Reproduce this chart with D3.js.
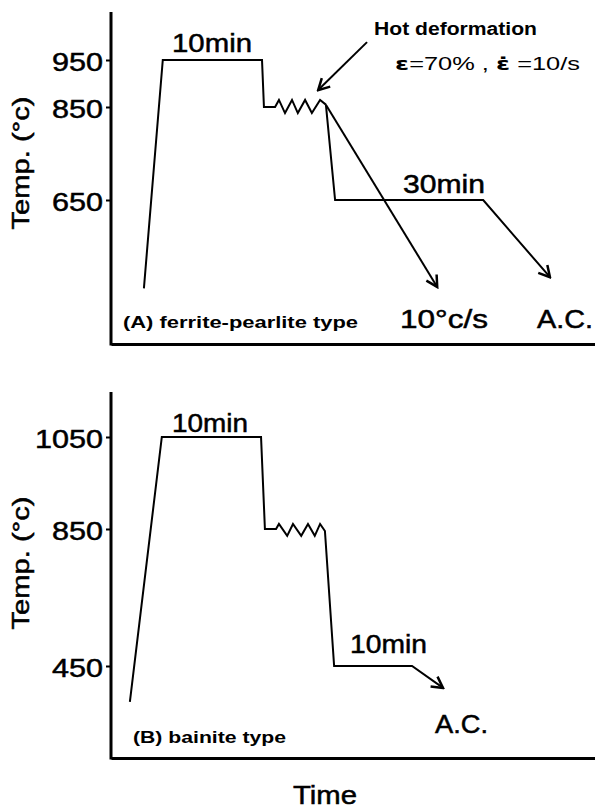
<!DOCTYPE html>
<html lang="en">
<head>
  <meta charset="UTF-8">
  <title>Heat treatment schedules</title>
  <style>
    body { margin: 0; background: #fff; }
    svg { display: block; font-family: "Liberation Sans", Arial, sans-serif; }
    .curve { fill: none; stroke: #000; stroke-width: 2; stroke-linejoin: miter; }
    .frame { stroke: #000; stroke-width: 3; }
    .big { font-size: 26px; stroke: #000; stroke-width: 0.5px; }
    .small { font-size: 15px; font-weight: bold; }
  </style>
</head>
<body>
  <script src="https://d3js.org/d3.v7.min.js"></script>
  <script>
    // time axis is schematic: arbitrary units 0..100
    const ticksA = [950, 850, 650];
    const ticksB = [1050, 850, 450];

    // panel A: heating, hold 10min at 950, drop to 850, hot deformation (zigzag)
    const timeA = [6.8, 10.7, 31.2, 31.6, 33.9, 34.7, 35.95, 37.4, 38.6, 40.1, 41.5, 43.2, 44.4];
    const tempA = [460, 950, 950, 850, 850, 865, 837, 865, 837, 865, 837, 865, 855];
    // after deformation: 10 C/s cooling branch
    const timeA_fast = [44.4, 67.4];
    const tempA_fast = [855, 463];
    // after deformation: hold 30min at 650 then air cooling
    const timeA_ac = [44.4, 46.3, 76.9, 90.7];
    const tempA_ac = [855, 650, 650, 484];
    // pointer for "Hot deformation"
    const timePtr = [52.9, 42.8];
    const tempPtr = [988, 886];

    // panel B: 1050 hold, 850 deformation, 450 hold 10min, air cooling
    const timeB = [3.9, 10.5, 31.0, 31.8, 34.1, 34.7, 36.4, 37.6, 39.3, 40.7, 42.1, 43.2, 44.2, 46.1, 62.2, 68.6];
    const tempB = [345, 1050, 1050, 850, 850, 861, 830, 861, 830, 861, 830, 861, 844, 450, 450, 386];

    const W = 595, H = 810;
    const LEFT = 111, RIGHT = 595;

    const svg = d3.select('body').append('svg')
      .attr('width', W).attr('height', H);

    svg.append('defs').append('marker')
      .attr('id', 'arrow')
      .attr('viewBox', '-13 -8 15 16')
      .attr('refX', 0).attr('refY', 0)
      .attr('markerWidth', 15).attr('markerHeight', 16)
      .attr('markerUnits', 'userSpaceOnUse')
      .attr('orient', 'auto')
      .append('path')
        .attr('d', 'M-11,-6 L0,0 L-11,6')
        .attr('fill', 'none')
        .attr('stroke', '#000')
        .attr('stroke-width', 2.5);

    const x = d3.scaleLinear().domain([0, 100]).range([LEFT, RIGHT]);

    // the temperature axes are schematic, so use piecewise scales
    const yA = d3.scaleLinear().domain([650, 850, 950]).range([200, 107, 60]);
    const yB = d3.scaleLinear().domain([450, 850, 1050]).range([666, 529, 437]);

    const line = (y) => d3.line().x(d => x(d[0])).y(d => y(d[1]));
    const zip = (a, b) => a.map((v, i) => [v, b[i]]);

    function addText(g, str, px, py, len, cls) {
      return g.append('text')
        .attr('x', px).attr('y', py)
        .attr('class', cls)
        .attr('textLength', len)
        .attr('lengthAdjust', 'spacingAndGlyphs')
        .text(str);
    }

    function drawFrame(y, ticks, top, bottom, labelY) {
      const g = svg.append('g');
      g.append('line').attr('class', 'frame')
        .attr('x1', LEFT).attr('x2', LEFT).attr('y1', top).attr('y2', bottom + 1.5);
      g.append('g')
        .attr('transform', `translate(0,${bottom})`)
        .call(d3.axisBottom(x).ticks(0).tickSizeOuter(0))
        .select('.domain').attr('stroke-width', 3);

      const ax = g.append('g')
        .attr('transform', `translate(${LEFT},0)`)
        .call(d3.axisLeft(y).tickValues(ticks).tickFormat(d3.format('d'))
          .tickSize(5).tickPadding(3));
      ax.select('.domain').remove();
      ax.selectAll('.tick line').attr('stroke-width', 2);
      ax.selectAll('.tick text')
        .attr('class', 'big')
        .attr('dy', '0.4em')
        .attr('fill', '#000')
        .attr('textLength', d => String(d).length * 17)
        .attr('lengthAdjust', 'spacingAndGlyphs');
      ax.attr('font-size', null).attr('font-family', null);

      g.append('text')
        .attr('class', 'big')
        .style('font-size', '24px')
        .attr('text-anchor', 'middle')
        .attr('transform', `translate(29,${labelY}) rotate(-90)`)
        .attr('textLength', 133)
        .attr('lengthAdjust', 'spacingAndGlyphs')
        .text('Temp. (°c)');
      return g;
    }

    // ---- panel A
    const gA = drawFrame(yA, ticksA, 12, 344, 163);
    gA.append('path').attr('class', 'curve').attr('d', line(yA)(zip(timeA, tempA)));
    gA.append('path').attr('class', 'curve').attr('marker-end', 'url(#arrow)')
      .attr('d', line(yA)(zip(timeA_fast, tempA_fast)));
    gA.append('path').attr('class', 'curve').attr('marker-end', 'url(#arrow)')
      .attr('d', line(yA)(zip(timeA_ac, tempA_ac)));
    gA.append('path').attr('class', 'curve').attr('marker-end', 'url(#arrow)')
      .attr('d', line(yA)(zip(timePtr, tempPtr)));

    addText(gA, '10min', 172, 52, 80, 'big');
    addText(gA, 'Hot deformation', 374, 35, 163, 'small').style('font-size', '18px');
    const eps = gA.append('text').attr('x', 395).attr('y', 70)
      .style('font-size', '18px')
      .attr('textLength', 185).attr('lengthAdjust', 'spacingAndGlyphs');
    eps.append('tspan').attr('font-weight', 'bold').attr('font-family', 'DejaVu Sans').text('ε');
    eps.append('tspan').text('=70% ,  ');
    eps.append('tspan').attr('font-weight', 'bold').attr('font-family', 'DejaVu Sans').text('ε̇');
    eps.append('tspan').text(' =10/s');
    addText(gA, '30min', 403, 193, 82, 'big');
    addText(gA, '10°c/s', 400, 328, 88, 'big');
    addText(gA, 'A.C.', 537, 328, 56, 'big');
    addText(gA, '(A) ferrite-pearlite type', 123, 328, 235, 'small').style('font-size', '16px');

    // ---- panel B
    const gB = drawFrame(yB, ticksB, 392, 758, 563);
    gB.append('path').attr('class', 'curve').attr('marker-end', 'url(#arrow)')
      .attr('d', line(yB)(zip(timeB, tempB)));

    addText(gB, '10min', 172, 432, 76, 'big');
    addText(gB, '10min', 350, 653, 77, 'big');
    addText(gB, 'A.C.', 435, 733, 53, 'big');
    addText(gB, '(B) bainite type', 133, 743, 153, 'small').style('font-size', '16px');

    addText(svg, 'Time', 293, 804, 64, 'big');
  </script>
</body>
</html>
